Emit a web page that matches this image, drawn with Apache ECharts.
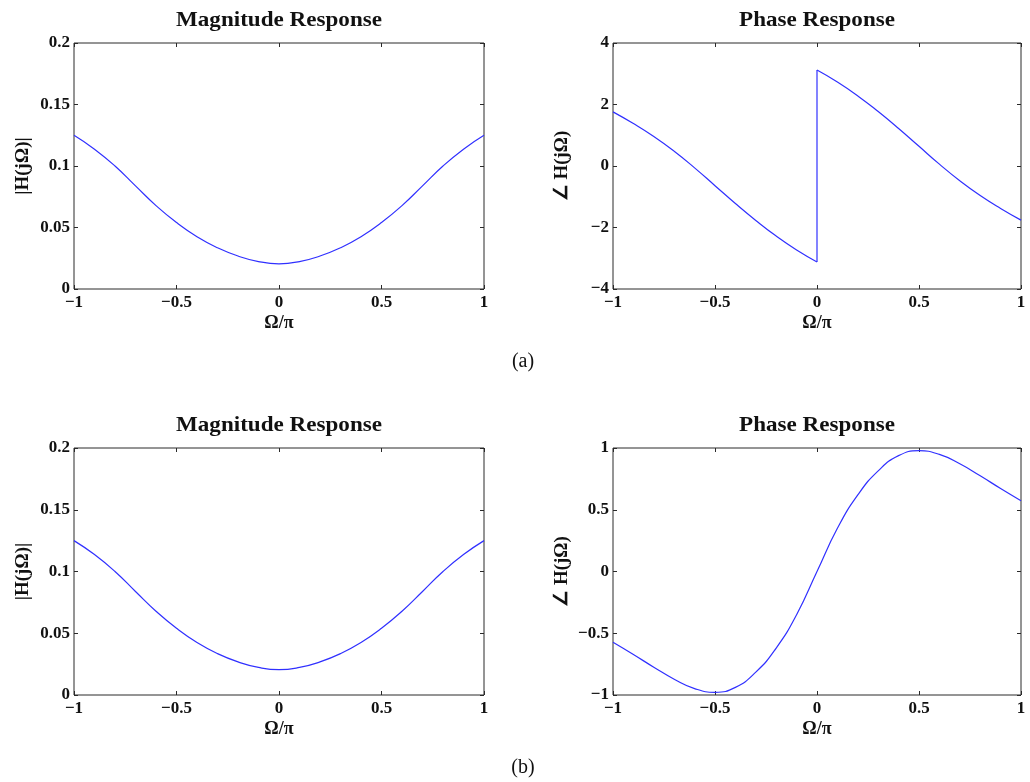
<!DOCTYPE html>
<html>
<head>
<meta charset="utf-8">
<script src="https://cdn.jsdelivr.net/npm/echarts@6/dist/echarts.min.js"></script>
<style>
  html, body { margin: 0; padding: 0; background: #fff; }
  #chart { width: 1030px; height: 782px; }
</style>
</head>
<body>
<div id="chart"></div>
<script>
// Normalised frequency Ω/π
const omega = [-1, -0.9, -0.8, -0.7, -0.6, -0.5, -0.4, -0.3, -0.2, -0.1, 0,
               0.1, 0.2, 0.3, 0.4, 0.5, 0.6, 0.7, 0.8, 0.9, 1];
const omegaNeg = [-1, -0.9, -0.8, -0.7, -0.6, -0.5, -0.4, -0.3, -0.2, -0.1, 0];
const omegaPos = [0, 0.1, 0.2, 0.3, 0.4, 0.5, 0.6, 0.7, 0.8, 0.9, 1];

// (a) magnitude |H(jΩ)|
const magA = [0.125, 0.1137, 0.1000, 0.0838, 0.0678, 0.0540, 0.0425, 0.0335, 0.0268, 0.0223, 0.0205,
              0.0223, 0.0268, 0.0335, 0.0425, 0.0540, 0.0678, 0.0838, 0.1000, 0.1137, 0.125];
// (a) phase, two branches either side of the jump at Ω = 0
const phaseANeg = [1.76, 1.38, 0.96, 0.48, -0.06, -0.64, -1.22, -1.77, -2.28, -2.73, -3.12];
const phaseAPos = [3.12, 2.73, 2.28, 1.77, 1.22, 0.64, 0.06, -0.48, -0.96, -1.38, -1.76];

// (b) magnitude and phase
const magB = [0.125, 0.1137, 0.1000, 0.0838, 0.0678, 0.0540, 0.0425, 0.0335, 0.0268, 0.0223, 0.0205,
              0.0223, 0.0268, 0.0335, 0.0425, 0.0540, 0.0678, 0.0838, 0.1000, 0.1137, 0.125];
const phaseB = [-0.573, -0.672, -0.775, -0.872, -0.948, -0.978, -0.938, -0.815, -0.620, -0.350, 0,
                0.350, 0.620, 0.815, 0.938, 0.978, 0.948, 0.872, 0.775, 0.672, 0.573];

// Tick values
const xTicks = [-1, -0.5, 0, 0.5, 1];
const magTicks = [0, 0.05, 0.1, 0.15, 0.2];
const phaseATicks = [-4, -2, 0, 2, 4];
const phaseBTicks = [-1, -0.5, 0, 0.5, 1];

const titles = ['Magnitude Response', 'Phase Response', 'Magnitude Response', 'Phase Response'];
const yNames = ['|H(jΩ)|', '∠ H(jΩ)', '|H(jΩ)|', '∠ H(jΩ)'];
const captions = ['(a)', '(b)'];

const SERIF = "'Liberation Serif', 'Times New Roman', serif";
const INK = '#111';
const FRAME = '#2a2a2a';
const LINE = '#3030ff';

const grids = [
  { left: 74,  top: 43,  width: 410, height: 246 },
  { left: 613, top: 43,  width: 408, height: 246 },
  { left: 74,  top: 448, width: 410, height: 247 },
  { left: 613, top: 448, width: 408, height: 247 }
];
const yTickSets = [magTicks, phaseATicks, magTicks, phaseBTicks];

const fmt = v => String(+(+v).toFixed(4)).replace('-', '\u2212');

const xAxes = [], yAxes = [];
grids.forEach((g, i) => {
  const yt = yTickSets[i];
  const tick = { show: true, inside: true, length: 4, lineStyle: { color: FRAME, width: 1 } };
  const line = { show: false, onZero: false };
  const xBase = { type: 'value', gridIndex: i, min: xTicks[0], max: xTicks[xTicks.length - 1],
                  interval: xTicks[1] - xTicks[0], splitLine: { show: false },
                  axisLine: line, axisTick: tick };
  const yBase = { type: 'value', gridIndex: i, min: yt[0], max: yt[yt.length - 1],
                  interval: yt[1] - yt[0], splitLine: { show: false },
                  axisLine: line, axisTick: tick };
  xAxes.push(Object.assign({}, xBase, {
    position: 'bottom',
    name: 'Ω/π', nameLocation: 'middle', nameGap: 25,
    nameTextStyle: { fontFamily: SERIF, fontWeight: 'bold', fontSize: 18, color: INK },
    axisLabel: { margin: 5, formatter: fmt, fontFamily: SERIF, fontWeight: 'bold', fontSize: 17, color: INK }
  }));
  xAxes.push(Object.assign({}, xBase, { position: 'top', axisLabel: { show: false } }));
  yAxes.push(Object.assign({}, yBase, {
    position: 'left',
    name: yNames[i], nameLocation: 'middle', nameGap: 41,
    nameTextStyle: { fontFamily: SERIF, fontWeight: 'bold', fontSize: 19, color: INK },
    axisLabel: { margin: 4, formatter: fmt, fontFamily: SERIF, fontWeight: 'bold', fontSize: 17, color: INK }
  }));
  yAxes.push(Object.assign({}, yBase, { position: 'right', axisLabel: { show: false } }));
});

const lineSeries = (i, xs, ys, smooth) => ({
  type: 'line', xAxisIndex: 2 * i, yAxisIndex: 2 * i,
  data: xs.map((x, k) => [x, ys[k]]),
  showSymbol: false, smooth: smooth, animation: false,
  lineStyle: { color: LINE, width: 1.2 }, itemStyle: { color: LINE }
});

const series = [
  lineSeries(0, omega, magA, 0.5),
  lineSeries(1, omegaNeg, phaseANeg, 0.5),
  // vertical jump of the phase at Ω = 0
  lineSeries(1, [omegaNeg[omegaNeg.length - 1], omegaPos[0]],
                [phaseANeg[phaseANeg.length - 1], phaseAPos[0]], false),
  lineSeries(1, omegaPos, phaseAPos, 0.5),
  lineSeries(2, omega, magB, 0.5),
  lineSeries(3, omega, phaseB, 0.5)
];

const graphic = [];
grids.forEach((g, i) => {
  graphic.push({
    type: 'text', x: g.left + g.width / 2, y: g.top - 22, scaleX: 1.1,
    style: { text: titles[i], fill: INK, font: `bold 21px ${SERIF}`, textAlign: 'center', textVerticalAlign: 'middle' }
  });
});
captions.forEach((c, k) => {
  const g = grids[2 * k];
  graphic.push({
    type: 'text', x: 523, y: g.top + g.height + 73,
    style: { text: c, fill: INK, font: `20px ${SERIF}`, textAlign: 'center', textVerticalAlign: 'middle' }
  });
});

const chart = echarts.init(document.getElementById('chart'), null, { renderer: 'canvas' });
chart.setOption({
  backgroundColor: '#fff',
  animation: false,
  grid: grids.map(g => Object.assign({ show: true, borderColor: FRAME, borderWidth: 1, backgroundColor: 'transparent' }, g)),
  xAxis: xAxes,
  yAxis: yAxes,
  series: series,
  graphic: graphic
});
</script>
</body>
</html>
